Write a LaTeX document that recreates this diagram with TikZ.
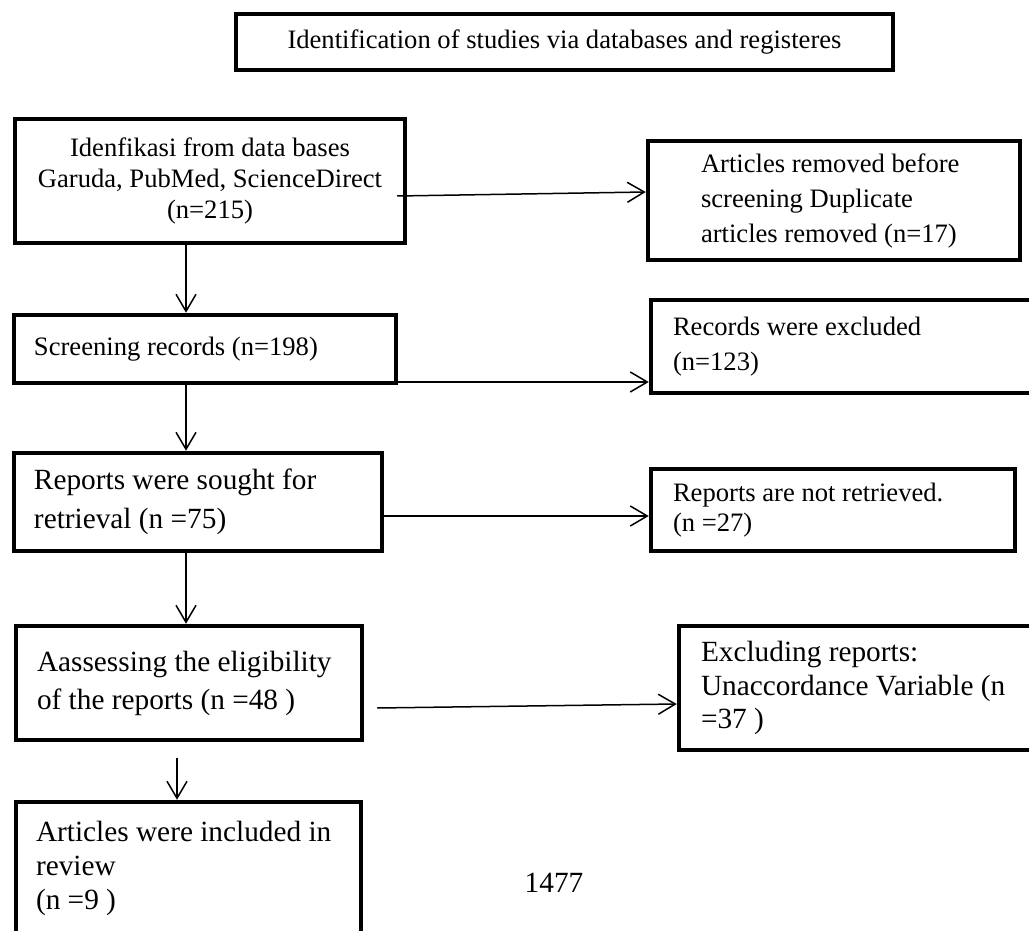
\documentclass[tikz,border=0pt]{standalone}
\usepackage{fontspec}
\setmainfont{Liberation Serif}
\usetikzlibrary{arrows.meta}
\tikzset{
    x=1pt, y=-1pt, % one unit is one pixel of the page, y runs downwards
    }

\begin{document}
\begin{tikzpicture}[
box/.style={rectangle, draw=black, line width=4.5pt, inner sep=0pt},
lbox/.style={box, align=flush left},
txtA/.style={font=\fontsize{26.6pt}{35pt}\selectfont},
txtB/.style={font=\fontsize{29.3pt}{38pt}\selectfont},
>={Straight Barb[length=17pt,width=20pt]},
flow/.style={line width=1.5pt, ->},
]
\clip (0,0) rectangle (1029,931);
\fill[white] (0,0) rectangle (1029,931);

\node[box, txtA, minimum width=657pt, minimum height=56pt] (title) at (564.5,42) {Identification of studies via databases and registeres};

\node[box, align=center, font=\fontsize{26.6pt}{31pt}\selectfont, minimum width=390pt, minimum height=124pt] (idf) at (210,181) {Idenfikasi from data bases\\ Garuda, PubMed, ScienceDirect\\ (n=215)};
\node[lbox, txtA, text width=266pt, minimum width=372pt, minimum height=119pt] (dup) at (834,200.5) {Articles removed before\\ screening Duplicate\\ articles removed (n=17)};

\node[lbox, txtA, text width=342pt, minimum width=382pt, minimum height=68pt] (scr) at (205,349) {Screening records (n=198)};
\node[lbox, txtA, text width=345pt, minimum width=389pt, minimum height=93pt] (rex) at (845.5,346.5) {Records were excluded\\ (n=123)};

\node[lbox, font=\fontsize{29.3pt}{39pt}\selectfont, text width=328pt, minimum width=368pt, minimum height=98pt] (sgt) at (198,502) {Reports were sought for\\ retrieval (n =75)};
\node[lbox, font=\fontsize{26.6pt}{30pt}\selectfont, text width=320pt, minimum width=364pt, minimum height=82pt] (nrt) at (833,510) {Reports are not retrieved.\\ (n =27)};

\node[lbox, txtB, text width=304pt, minimum width=346pt, minimum height=114pt] (elg) at (189,683) {Aassessing the eligibility\\ of the reports (n =48 )};
\node[lbox, font=\fontsize{29.3pt}{33.5pt}\selectfont, text width=317pt, minimum width=361pt, minimum height=124pt] (exc) at (859.5,688) {Excluding reports:\\ Unaccordance Variable (n\\ =37 )};

\node[lbox, font=\fontsize{29.3pt}{34pt}\selectfont, text width=305pt, minimum width=345pt, minimum height=133pt] (inc) at (188.5,868.5) {Articles were included in\\ review\\ (n =9 )};
\node[txtB, inner sep=0pt] (page) at (554,883) {1477};

\coordinate (spine) at (186,0);
\coordinate (spine2) at (177,0);

\draw[flow] (idf.south -| spine) -- (scr.north -| spine);
\draw[flow] (scr.south -| spine) -- (sgt.north -| spine);
\draw[flow] (sgt.south -| spine) -- (elg.north -| spine);
\draw[flow, shorten <=16pt] (elg.south -| spine2) -- (inc.north -| spine2);

\draw[flow] ([xshift=-10pt,yshift=-15pt]idf.east) -- ([yshift=8.5pt]dup.west);
\draw[flow] ([yshift=-33pt]scr.east) -- ([yshift=-35.5pt]rex.west);
\draw[flow] ([yshift=-14pt]sgt.east) -- ([yshift=-6pt]nrt.west);
\draw[flow] ([xshift=13pt,yshift=-25pt]elg.east) -- ([yshift=-16pt]exc.west);

\end{tikzpicture}
\end{document}
